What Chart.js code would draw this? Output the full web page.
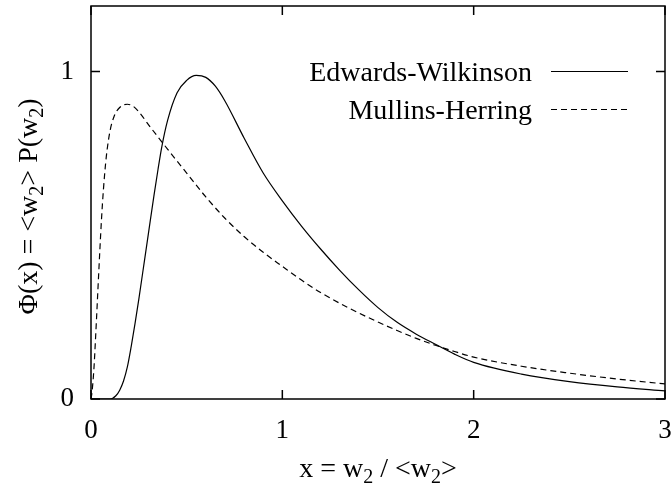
<!DOCTYPE html>
<html>
<head>
<meta charset="utf-8">
<script src="https://cdn.jsdelivr.net/npm/chart.js@4.4.1/dist/chart.umd.min.js"></script>
<style>
  html, body { margin: 0; padding: 0; background: #fff; }
  canvas { display: block; }
</style>
</head>
<body>
<canvas id="chart" width="671" height="484"></canvas>
<script>
// values
const ewX = [0, 0.1, 0.13, 0.15, 0.17, 0.19, 0.21, 0.23, 0.25, 0.28, 0.3, 0.33, 0.35, 0.37, 0.4, 0.45, 0.5, 0.55, 0.6, 0.65, 0.7, 0.8, 0.9, 1.0, 1.1, 1.2, 1.3, 1.4, 1.5, 1.6, 1.7, 1.8, 1.9, 2.0, 2.25, 2.5, 2.75, 3.0];
const ewY = [0, 0, 0.01, 0.027, 0.055, 0.098, 0.16, 0.23, 0.305, 0.425, 0.505, 0.625, 0.70, 0.77, 0.85, 0.935, 0.973, 0.988, 0.982, 0.955, 0.91, 0.797, 0.69, 0.605, 0.528, 0.458, 0.393, 0.333, 0.279, 0.234, 0.198, 0.167, 0.137, 0.112, 0.076, 0.053, 0.037, 0.025];

const mhX = [0, 0.005, 0.015, 0.025, 0.035, 0.045, 0.055, 0.065, 0.08, 0.1, 0.12, 0.15, 0.19, 0.22, 0.25, 0.3, 0.35, 0.4, 0.5, 0.6, 0.7, 0.8, 0.9, 1.0, 1.1, 1.2, 1.35, 1.5, 1.6, 1.7, 1.8, 1.9, 2.0, 2.25, 2.5, 2.75, 3.0];
const mhY = [0, 0.02, 0.09, 0.2, 0.32, 0.44, 0.55, 0.64, 0.74, 0.82, 0.862, 0.89, 0.9, 0.894, 0.877, 0.838, 0.8, 0.763, 0.69, 0.617, 0.552, 0.496, 0.448, 0.405, 0.363, 0.325, 0.277, 0.235, 0.209, 0.185, 0.164, 0.145, 0.128, 0.1, 0.079, 0.061, 0.046];

const seriesNames = ['Edwards-Wilkinson', 'Mullins-Herring'];
const xTicks = [0, 1, 2, 3];
const yTicks = [0, 1];

const FONT = "'Liberation Serif', 'Times New Roman', serif";
const TXT = 28;

function pts(xs, ys) {
  return xs.map((x, i) => ({ x: x, y: ys[i] }));
}

// draws text parts, those flagged 1 as subscripts, starting at x (left aligned)
function drawParts(ctx, parts, x, y, size) {
  parts.forEach(p => {
    const sub = p[1];
    ctx.font = (sub ? Math.round(size * 0.7) : size) + 'px ' + FONT;
    ctx.fillText(p[0], x, sub ? y + size * 0.22 : y);
    x += ctx.measureText(p[0]).width;
  });
}
function partsWidth(ctx, parts, size) {
  let w = 0;
  parts.forEach(p => {
    ctx.font = (p[1] ? Math.round(size * 0.7) : size) + 'px ' + FONT;
    w += ctx.measureText(p[0]).width;
  });
  return w;
}

const gnuplotFrame = {
  id: 'gnuplotFrame',
  afterDatasetsDraw(chart) {
    const ctx = chart.ctx;
    const a = chart.chartArea;
    const xs = chart.scales.x, ys = chart.scales.y;
    ctx.save();
    ctx.strokeStyle = '#000';
    ctx.lineWidth = 1.5;
    ctx.strokeRect(a.left, a.top, a.right - a.left, a.bottom - a.top);
    const tl = 9;
    ctx.beginPath();
    xs.ticks.forEach(t => {
      const px = xs.getPixelForValue(t.value);
      ctx.moveTo(px, a.bottom); ctx.lineTo(px, a.bottom - tl);
      ctx.moveTo(px, a.top); ctx.lineTo(px, a.top + tl);
    });
    ys.ticks.forEach(t => {
      const py = ys.getPixelForValue(t.value);
      ctx.moveTo(a.left, py); ctx.lineTo(a.left + tl, py);
      ctx.moveTo(a.right, py); ctx.lineTo(a.right - tl, py);
    });
    ctx.stroke();

    // legend, gnuplot style: text right aligned, sample on the right
    ctx.textAlign = 'left';
    ctx.textBaseline = 'alphabetic';
    ctx.fillStyle = '#000';
    chart.data.datasets.forEach((ds, i) => {
      const ly = ys.getPixelForValue(1) + i * 38;
      ctx.font = TXT + 'px ' + FONT;
      const w = ctx.measureText(ds.label).width;
      ctx.fillText(ds.label, 532 - w, ly + 9);
      ctx.beginPath();
      ctx.lineWidth = 1.2;
      ctx.setLineDash(ds.borderDash || []);
      ctx.moveTo(551, ly); ctx.lineTo(628, ly);
      ctx.stroke();
      ctx.setLineDash([]);
    });

    // axis titles with subscripts
    const xt = [['x = w', 0], ['2', 1], [' / <w', 0], ['2', 1], ['>', 0]];
    const xw = partsWidth(ctx, xt, TXT);
    drawParts(ctx, xt, (a.left + a.right) / 2 - xw / 2, 477, TXT);

    const yt = [['\u03A6(x) = <w', 0], ['2', 1], ['> P(w', 0], ['2', 1], [')', 0]];
    const yw = partsWidth(ctx, yt, TXT);
    ctx.translate(37, (a.top + a.bottom) / 2 + 4);
    ctx.rotate(-Math.PI / 2);
    drawParts(ctx, yt, -yw / 2, 0, TXT);
    ctx.restore();
  }
};

new Chart(document.getElementById('chart'), {
  type: 'line',
  data: {
    datasets: [
      {
        label: seriesNames[0],
        data: pts(ewX, ewY),
        borderColor: '#000',
        borderWidth: 1.2,
        pointRadius: 0,
        cubicInterpolationMode: 'monotone',
        fill: false
      },
      {
        label: seriesNames[1],
        data: pts(mhX, mhY),
        borderColor: '#000',
        borderWidth: 1.2,
        borderDash: [6, 4],
        pointRadius: 0,
        cubicInterpolationMode: 'monotone',
        fill: false
      }
    ]
  },
  options: {
    responsive: false,
    animation: false,
    devicePixelRatio: 1,
    layout: { padding: { top: 6, right: 6, left: 0, bottom: 0 } },
    plugins: {
      legend: { display: false },
      tooltip: { enabled: false }
    },
    scales: {
      x: {
        type: 'linear',
        min: 0,
        max: 3,
        afterBuildTicks: s => { s.ticks = xTicks.map(v => ({ value: v })); },
        afterFit: s => { s.height = 85; s.paddingLeft = 0; s.paddingRight = 0; },
        grid: { display: false },
        border: { display: false },
        ticks: {
          color: '#000',
          font: { family: FONT, size: 27 },
          padding: 8,
          maxRotation: 0,
          autoSkip: false
        }
      },
      y: {
        type: 'linear',
        min: 0,
        max: 1.2,
        afterBuildTicks: s => { s.ticks = yTicks.map(v => ({ value: v })); },
        afterFit: s => { s.width = 91; s.paddingTop = 0; s.paddingBottom = 0; },
        grid: { display: false },
        border: { display: false },
        ticks: {
          color: '#000',
          font: { family: FONT, size: 27 },
          padding: 9,
          autoSkip: false
        }
      }
    }
  },
  plugins: [gnuplotFrame]
});
</script>
</body>
</html>
